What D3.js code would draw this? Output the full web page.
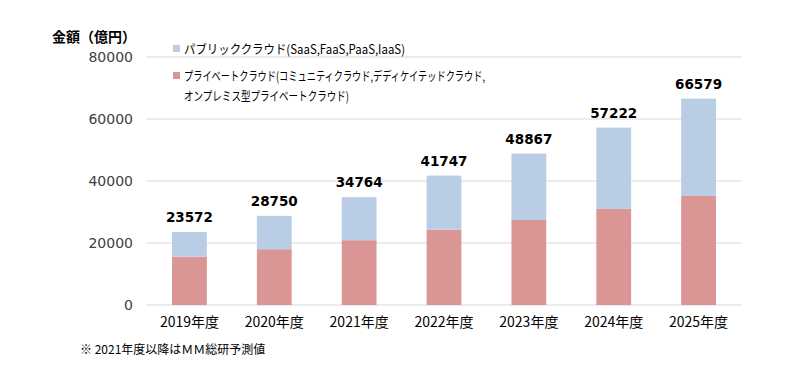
<!DOCTYPE html>
<html><head><meta charset="utf-8">
<script src="https://cdn.jsdelivr.net/npm/d3@7"></script>
<style>
body{margin:0;background:#fff;}
text{font-family:"Noto Sans CJK JP","Noto Sans",sans-serif;}
</style></head>
<body><svg id="c" width="800" height="369"></svg>
<script>
const categories = ["2019年度","2020年度","2021年度","2022年度","2023年度","2024年度","2025年度"];
const totals = [23572, 28750, 34764, 41747, 48867, 57222, 66579];
const privateCloud = [15600, 18000, 20900, 24300, 27400, 31000, 35200];
const publicCloud = totals.map((t,i)=>t-privateCloud[i]);
const yTicks = [0, 20000, 40000, 60000, 80000];
const seriesNames = ["パブリッククラウド(SaaS,FaaS,PaaS,IaaS)", "プライベートクラウド(コミュニティクラウド,デディケイテッドクラウド,", "オンプレミス型プライベートクラウド)"];
const colors = {pub:"#b9cde5", priv:"#d99694"};

const svg = d3.select("#c");
const x = d3.scaleBand().domain(categories).range([147, 741]).paddingInner(0.59).paddingOuter(0.295);
const y = d3.scaleLinear().domain([0, 80000]).range([305, 57]);

// grid
svg.append("g").selectAll("line").data(yTicks).join("line")
  .attr("x1",147).attr("x2",741).attr("y1",d=>y(d)).attr("y2",d=>y(d))
  .attr("stroke","#d9d9d9").attr("stroke-width",1);

// y axis labels
const yAxis = d3.axisLeft(y).tickValues(yTicks).tickSize(0).tickPadding(0).tickFormat(d=>String(d));
const ya = svg.append("g").attr("transform","translate(133,0)").call(yAxis);
ya.select(".domain").remove();
ya.selectAll("text").attr("font-size",14).attr("fill","#404040")
  .style("font-family","'DejaVu Sans',sans-serif");

// bars
const data = categories.map((c,i)=>({c, priv:privateCloud[i], pub:publicCloud[i], total:totals[i]}));
const stack = d3.stack().keys(["priv","pub"])(data);
svg.append("g").selectAll("g").data(stack).join("g")
  .attr("fill",d=>d.key==="priv"?colors.priv:colors.pub)
  .selectAll("rect").data(d=>d).join("rect")
  .attr("x",d=>x(d.data.c)).attr("width",x.bandwidth())
  .attr("y",d=>y(d[1])).attr("height",d=>y(d[0])-y(d[1]));

// value labels
svg.append("g").selectAll("text").data(data).join("text")
  .attr("x",d=>x(d.c)+x.bandwidth()/2).attr("y",d=>y(d.total)-10)
  .attr("text-anchor","middle").attr("font-size",13.5).attr("font-weight","bold").attr("fill","#000")
  .style("font-family","'DejaVu Sans',sans-serif")
  .text(d=>d.total);

// x axis labels
const xAxis = d3.axisBottom(x).tickSize(0).tickPadding(0);
const xa = svg.append("g").attr("transform","translate(0,314)").call(xAxis);
xa.select(".domain").remove();
xa.selectAll("text").attr("font-size",14).attr("fill","#000").attr("dy","0.9em");

// title
svg.append("text").attr("x",52).attr("y",42).attr("font-size",14).attr("font-weight","bold").text("金額（億円）");

// legend
const leg = svg.append("g").attr("font-size",12.5).attr("fill","#000");
leg.append("rect").attr("x",173).attr("y",45).attr("width",7).attr("height",7).attr("fill",colors.pub);
leg.append("text").attr("x",184).attr("y",54).attr("textLength",221).attr("lengthAdjust","spacingAndGlyphs").text(seriesNames[0]);
leg.append("rect").attr("x",173).attr("y",72).attr("width",7).attr("height",7).attr("fill",colors.priv);
leg.append("text").attr("x",184).attr("y",81).attr("textLength",301).attr("lengthAdjust","spacingAndGlyphs").text(seriesNames[1]);
leg.append("text").attr("x",184).attr("y",101).attr("textLength",165).attr("lengthAdjust","spacingAndGlyphs").text(seriesNames[2]);

// footnote
svg.append("text").attr("x",80).attr("y",354).attr("font-size",12).attr("fill","#000").text("※  2021年度以降はＭＭ総研予測値");
</script></body></html>
